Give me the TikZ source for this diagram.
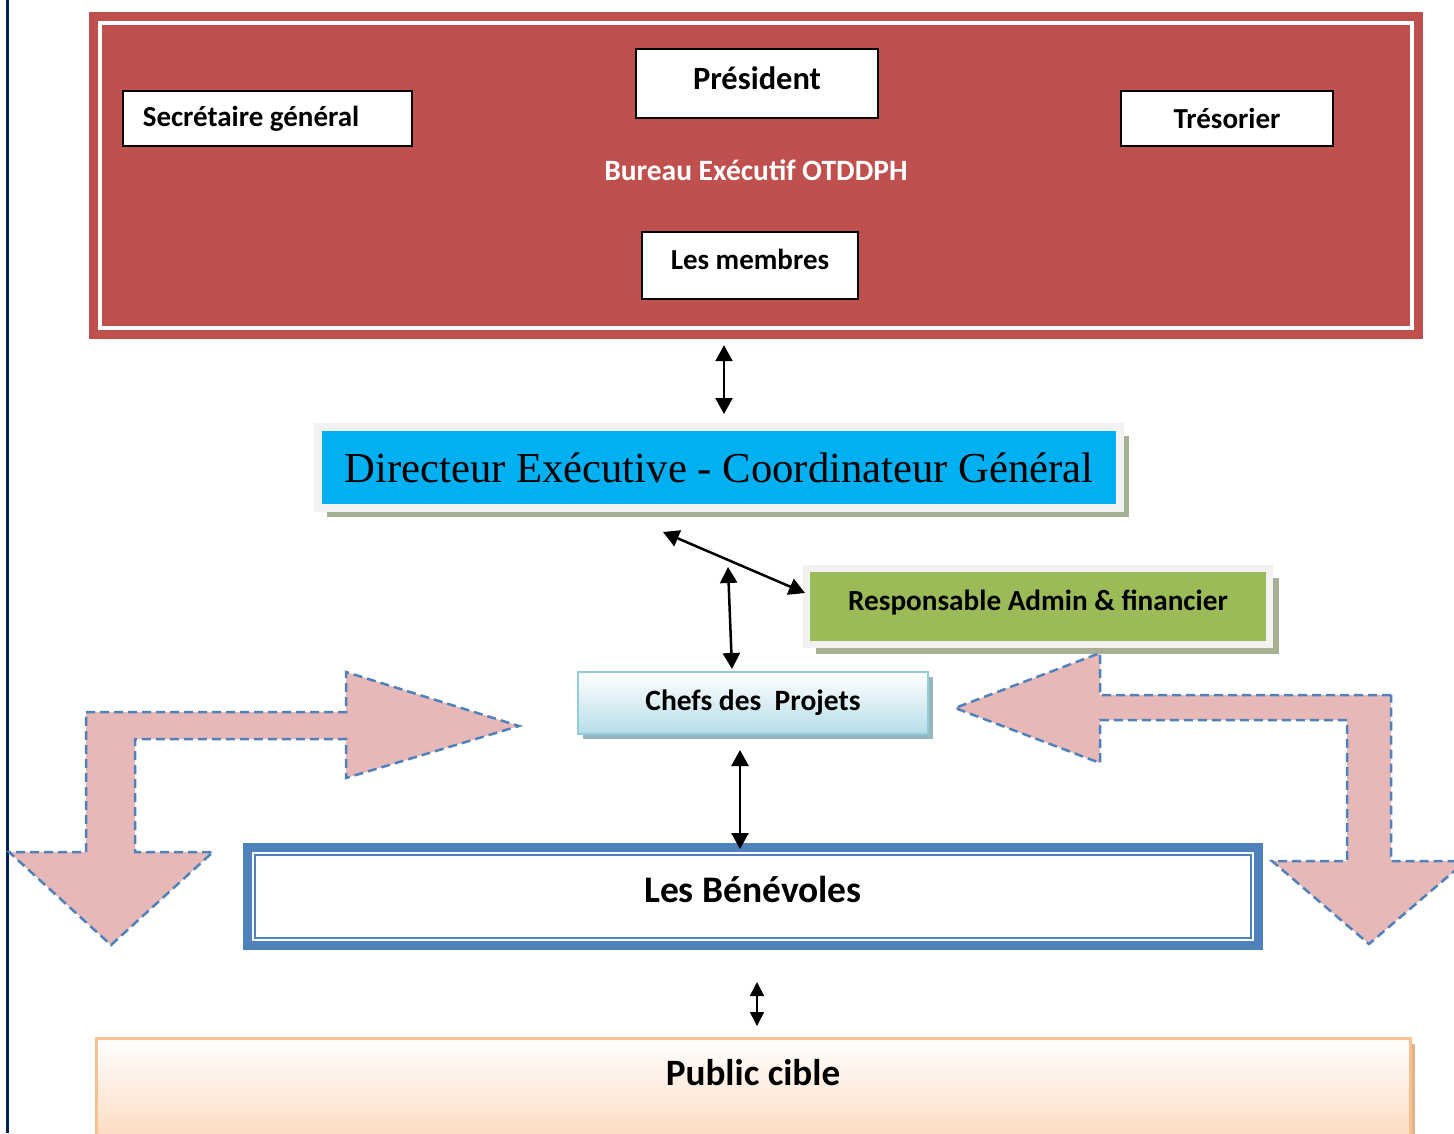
\documentclass[tikz,border=0pt]{standalone}
\usepackage{fontspec}
\setmainfont{Carlito}
\newfontfamily\timesfont{Liberation Serif}
\usetikzlibrary{arrows.meta,shadows}

\definecolor{bureaured}{RGB}{192,80,77}
\definecolor{cyanblue}{RGB}{0,176,240}
\definecolor{admingreen}{RGB}{155,187,89}
\definecolor{framegray}{RGB}{242,242,242}
\definecolor{olivegray}{RGB}{166,176,146}
\definecolor{arrowpink}{RGB}{230,184,183}
\definecolor{dashblue}{RGB}{79,129,189}
\definecolor{peachline}{RGB}{250,192,144}
\definecolor{peachfill}{RGB}{251,212,180}
\definecolor{chefline}{RGB}{146,205,220}
\definecolor{cheffill}{RGB}{183,221,232}
\definecolor{chefshadow}{RGB}{150,182,192}
\definecolor{navyline}{RGB}{0,32,96}

\tikzset{
  whitebox/.style={draw=black, line width=1.6pt, fill=white, inner sep=0pt,
    font=\fontsize{29pt}{33pt}\selectfont\bfseries},
  link/.style={line width=2.5pt,
    {Triangle[length=16pt,width=17pt]}-{Triangle[length=16pt,width=17pt]}},
  smalllink/.style={line width=1.6pt,
    {Triangle[length=14pt,width=14pt]}-{Triangle[length=14pt,width=14pt]}},
  bentarrow/.style={fill=arrowpink, draw=dashblue, line width=2.5pt,
    dash pattern=on 9pt off 5pt},
}

\begin{document}
\begin{tikzpicture}[x=1pt, y=-1pt]
  \useasboundingbox (0,0) rectangle (1454,1133);
  \clip (0,0) rectangle (1454,1133);

  % page rule on the left
  \draw[navyline, line width=3pt] (7.5,0) -- (7.5,1133);

  % Bureau executif
  \node[fill=bureaured, minimum width=1334pt, minimum height=327pt, inner sep=0pt,
        text=white, font=\fontsize{29.5pt}{33pt}\selectfont\bfseries,
        text height=19pt, text depth=9pt]
        (bureau) at (756,175.5) {Bureau Exécutif OTDDPH};
  \draw[white, line width=4pt] ([shift={(11pt,-11pt)}]bureau.north west)
        rectangle ([shift={(-11pt,11pt)}]bureau.south east);

  \node[whitebox, minimum width=242.4pt, minimum height=69.4pt,
        font=\fontsize{32.5pt}{36pt}\selectfont\bfseries, text height=21pt, text depth=9pt]
        (pres) at (757,83.5) {Président};
  \node[whitebox, minimum width=289.4pt, minimum height=55.4pt]
        (secr) at (267.5,118.5) {\makebox[249.4pt][l]{Secrétaire général}};
  \node[whitebox, minimum width=212.4pt, minimum height=55.4pt] (tres) at (1227,118.5) {Trésorier};
  \node[whitebox, minimum width=216.4pt, minimum height=67.4pt,
        text height=18.7pt, text depth=11pt] (membres) at (750,265.5) {Les membres};

  % Directeur
  \node[draw=framegray, line width=8pt, fill=cyanblue, inner sep=0pt,
        minimum width=802pt, minimum height=81pt,
        font=\timesfont\fontsize{42.7pt}{46pt}\selectfont,
        drop shadow={shadow xshift=9pt, shadow yshift=-9pt, fill=olivegray, opacity=1}]
        (dir) at (719,467.5) {Directeur Exécutive - Coordinateur Général};

  % Responsable
  \node[draw=framegray, line width=7pt, fill=admingreen, inner sep=0pt,
        minimum width=463pt, minimum height=76pt,
        font=\fontsize{29.2pt}{33pt}\selectfont\bfseries, text height=18.8pt, text depth=11pt,
        drop shadow={shadow xshift=9pt, shadow yshift=-9pt, fill=olivegray, opacity=1}]
        (resp) at (1038,606.5) {Responsable Admin \& financier};

  % Chefs des projets
  \node[draw=chefline, line width=2pt, top color=white, bottom color=cheffill, inner sep=0pt,
        minimum width=350pt, minimum height=62pt,
        font=\fontsize{29.5pt}{33pt}\selectfont\bfseries,
        drop shadow={shadow xshift=5pt, shadow yshift=-5pt, fill=chefshadow, opacity=1}]
        (chefs) at (753,703) {Chefs des\ \ Projets};

  % Benevoles
  \node[draw=dashblue, line width=9pt, fill=white, inner sep=0pt,
        minimum width=1011pt, minimum height=98pt,
        font=\fontsize{37.5pt}{41pt}\selectfont\bfseries, text height=24.2pt, text depth=13pt]
        (bene) at (753,896.5) {Les Bénévoles};
  \draw[dashblue, line width=1.5pt] ([shift={(12pt,-12pt)}]bene.north west)
        rectangle ([shift={(-12pt,12pt)}]bene.south east);

  % Public cible
  \node[draw=peachline, line width=3pt, top color=white, bottom color=peachfill,
        minimum width=1314pt, inner xsep=0pt, inner ysep=23pt,
        text height=24pt, text depth=50pt, anchor=north,
        font=\fontsize{37.2pt}{41pt}\selectfont\bfseries,
        drop shadow={shadow xshift=5pt, shadow yshift=-5pt, fill=peachline!80!gray, opacity=1}]
        (public) at (753,1037) {Public cible};

  % liaisons
  \draw[link] ([xshift=-32pt,yshift=-6pt]bureau.south) -- ([xshift=5pt,yshift=9pt]dir.north);
  \draw[link] ([xshift=-56pt,yshift=-20pt]dir.south) -- ([xshift=2pt,yshift=13.5pt]resp.west);
  \draw[link] ([xshift=9pt,yshift=-55pt]dir.south) -- ([xshift=-21pt,yshift=2pt]chefs.north);
  \draw[link] ([xshift=-13pt,yshift=-15pt]chefs.south) -- ([xshift=-13pt,yshift=-6pt]bene.north);
  \draw[smalllink] ([xshift=4pt,yshift=-32pt]bene.south) -- ([xshift=4pt,yshift=11pt]public.north);

  % bent arrows
  \draw[bentarrow] (86,712) -- (346,712) -- (346,672) -- (519,726) -- (346,778) -- (346,739)
        -- (135,739) -- (135,852) -- (213,852) -- (111,945) -- (9,852) -- (86,852) -- cycle;
  \draw[bentarrow] (1391,695) -- (1100,695) -- (1100,653) -- (955,708) -- (1100,763) -- (1100,720)
        -- (1347,720) -- (1347,861) -- (1272,861) -- (1369,944) -- (1466,861) -- (1391,861) -- cycle;
\end{tikzpicture}
\end{document}
